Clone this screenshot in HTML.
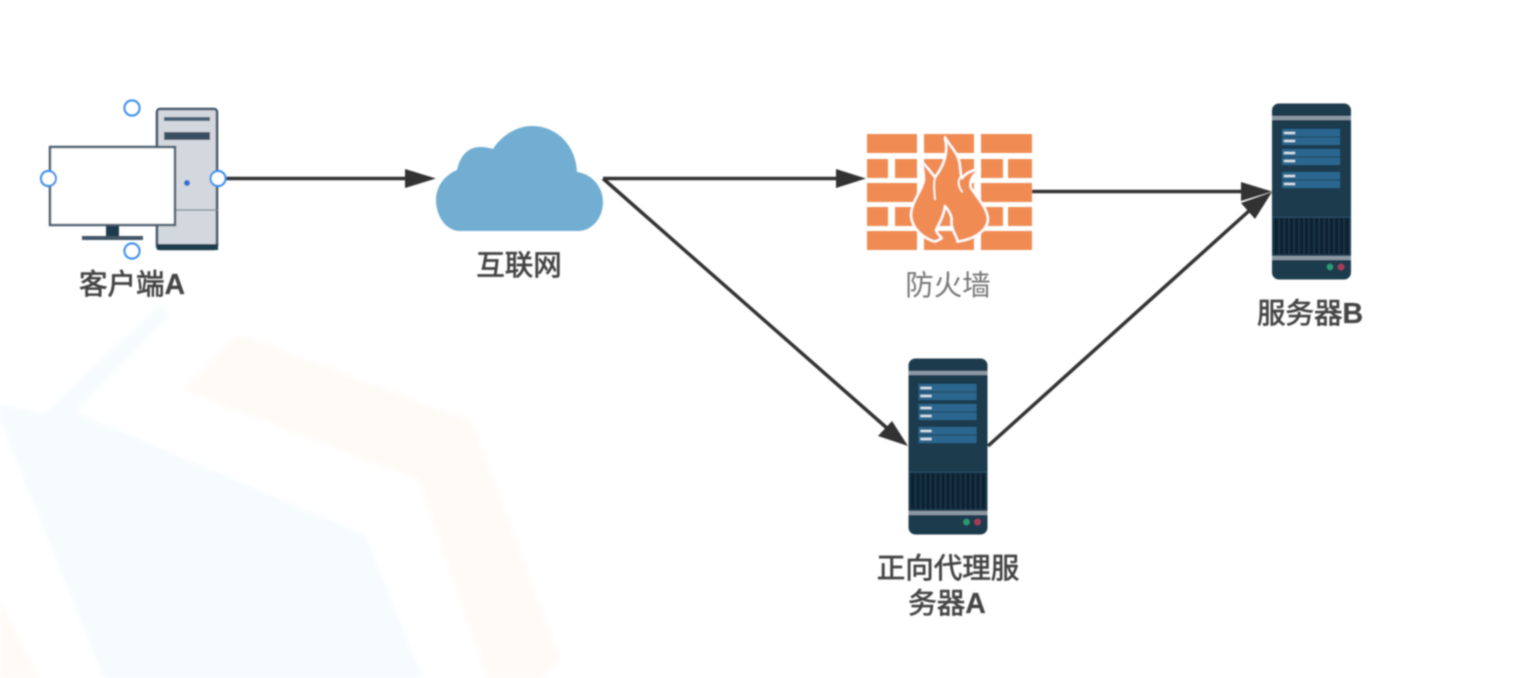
<!DOCTYPE html>
<html><head><meta charset="utf-8"><style>
html,body{margin:0;padding:0;background:#fff}
svg{display:block}
text{font-family:"Liberation Sans","Noto Sans CJK SC",sans-serif;text-anchor:middle;font-size:28.5px;font-weight:normal;fill:#444;stroke:#444;stroke-width:.7px}
text tspan{font-weight:bold;stroke-width:.2px}
</style></head><body>
<svg width="1520" height="678" viewBox="0 0 1520 678" xmlns="http://www.w3.org/2000/svg">
<defs>
<filter id="b" x="-5%" y="-5%" width="110%" height="110%"><feGaussianBlur stdDeviation="0.7"/></filter>
<filter id="b2" x="-5%" y="-5%" width="110%" height="110%"><feGaussianBlur stdDeviation="3"/></filter>
<g id="srv">
<rect x="1272" y="103.500" width="79" height="176" rx="7" fill="#1f3a4d"/>
<rect x="1272" y="116" width="79" height="4" fill="#8b9aa6"/>
<rect x="1272" y="256" width="79" height="4" fill="#8b9aa6"/>
<rect x="1282" y="129" width="58" height="16" fill="#2a668f"/>
<rect x="1282" y="149" width="58" height="16" fill="#2a668f"/>
<rect x="1282" y="172" width="58" height="16" fill="#2a668f"/>
<path d="M1282 137h58M1282 157h58M1282 180h58" stroke="#1f3a4d" stroke-width="1"/>
<path d="M1284 133h11M1284 141h11M1284 153h11M1284 161h11M1284 176h11M1284 184h11" stroke="#dfe9f0" stroke-width="2"/>
<path d="M1272 217h79" stroke="#2a5068" stroke-width="1"/>
<rect x="1274" y="218" width="75" height="36" fill="#0f2230"/>
<path d="M1279 218v36M1284 218v36M1289 218v36M1294 218v36M1299 218v36M1304 218v36M1309 218v36M1314 218v36M1319 218v36M1324 218v36M1329 218v36M1334 218v36M1339 218v36M1344 218v36" stroke="#1f3a4d" stroke-width="1.200"/>
<circle cx="1330" cy="267" r="3.200" fill="#2e9a72"/>
<circle cx="1341" cy="267" r="3.200" fill="#a83a55"/>
</g>
</defs>

<g filter="url(#b2)">
<path d="M0 405L45 413L160 305L170 315L75 412L365 535L423 678H104L0 420Z" fill="#f6fbfe"/>
<path d="M238 334L472 422L560 660L540 678H488L419 480L184 390Z" fill="#fefaf6"/>
<path d="M0 600L38 678H0Z" fill="#fefaf6"/>
</g>

<g filter="url(#b)">
<!-- client tower -->
<rect x="157" y="109" width="60" height="140" rx="3" fill="#d3d8de" stroke="#3f5566" stroke-width="2.500"/>
<rect x="157" y="244" width="61" height="6" fill="#1f3a4d"/>
<rect x="164" y="117" width="46" height="4" fill="#4a6074"/>
<rect x="164" y="132" width="46" height="8" fill="#3a5064"/>
<path d="M157 210H218" stroke="#77858f" stroke-width="1.200"/>
<circle cx="187" cy="183" r="3" fill="#2f6fd0"/>
<!-- monitor -->
<rect x="50" y="147" width="125" height="78" fill="#fff" stroke="#4e6070" stroke-width="2.500"/>
<rect x="106" y="226" width="13" height="11" fill="#1f3a4d"/>
<rect x="82" y="236" width="61" height="4" fill="#3f5566"/>

<!-- cloud -->
<path d="M460 231C446 231 436 216 436 200C436 186 445 175 457 170C460 156 468 147 480 147C485 147 490 148 493 149C502 135 517 126 532 126C557 126 576 146 577 172C592 174 603 187 603 202C603 218 592 231 578 231Z" fill="#71aed1"/>

<!-- firewall bricks -->
<g fill="#f08c53">
<rect x="867" y="134" width="50" height="19"/><rect x="924" y="134" width="50" height="19"/><rect x="981" y="134" width="51" height="19"/>
<rect x="867" y="159" width="21" height="19"/><rect x="895" y="159" width="22" height="19"/><rect x="924" y="159" width="50" height="19"/><rect x="981" y="159" width="22" height="19"/><rect x="1008" y="159" width="24" height="19"/>
<rect x="867" y="183" width="50" height="19"/><rect x="924" y="183" width="50" height="19"/><rect x="981" y="183" width="51" height="19"/>
<rect x="867" y="207" width="21" height="19"/><rect x="895" y="207" width="22" height="19"/><rect x="924" y="207" width="50" height="19"/><rect x="981" y="207" width="22" height="19"/><rect x="1008" y="207" width="24" height="19"/>
<rect x="867" y="231" width="50" height="19"/><rect x="924" y="231" width="50" height="19"/><rect x="981" y="231" width="51" height="19"/>
</g>
<g transform="translate(900 130) scale(.3333)">
<path d="M135 22C150 50 178 70 180 110C182 125 182 135 186 145C198 128 218 120 240 118C222 132 208 148 212 172C232 205 260 230 264 265C264 300 225 328 172 335C176 325 150 300 155 265C152 250 145 240 135 228C132 255 118 280 108 300C112 315 125 320 125 325L105 335C70 325 36 295 33 258C33 215 65 185 72 150C72 130 68 110 65 95C82 112 95 128 105 142C125 115 148 75 135 22Z" fill="#f08c53" stroke="#fff" stroke-width="7" stroke-linejoin="round"/>
<path d="M105 142C100 165 103 185 105 208M182 140C172 155 175 170 186 185" fill="none" stroke="#fff" stroke-width="5" stroke-linecap="round"/>
</g>

<use href="#srv"/>
<use href="#srv" transform="translate(-363.500 255)"/>

<!-- connectors -->
<g fill="none" stroke="#333" stroke-width="3.500">
<path d="M222 178.500H410"/>
<path d="M603 178.500H840"/>
<path d="M603 178.500L888 429"/>
<path d="M1032 191.500H1245"/>
<path d="M988 446L1250 210"/>
</g>
<g fill="#333">
<path d="M436 178.500L405 169L405 188Z"/>
<path d="M866 178.500L836 169L836 188Z"/>
<path d="M908 446L878 436L892 421Z"/>
<path d="M1272 191.500L1241 182L1241 201Z"/>
<path d="M1272 192L1241 203L1255 219Z"/>
</g>

<!-- handles -->
<g fill="#fff" stroke="#2f8fef" stroke-width="2.200">
<circle cx="132" cy="108" r="7.500"/>
<circle cx="48.500" cy="178.500" r="7.500"/>
<circle cx="218" cy="178.500" r="7.500"/>
<circle cx="132" cy="251" r="7.500"/>
</g>

<!-- labels -->
<text x="132" y="294">客户端<tspan>A</tspan></text>
<text x="519" y="275">互联网</text>
<text x="948" y="295" style="fill:#777;stroke:none">防火墙</text>
<text x="1310" y="323">服务器<tspan>B</tspan></text>
<text x="948" y="578">正向代理服</text>
<text x="947" y="613">务器<tspan>A</tspan></text>
</g>
</svg>
</body></html>
